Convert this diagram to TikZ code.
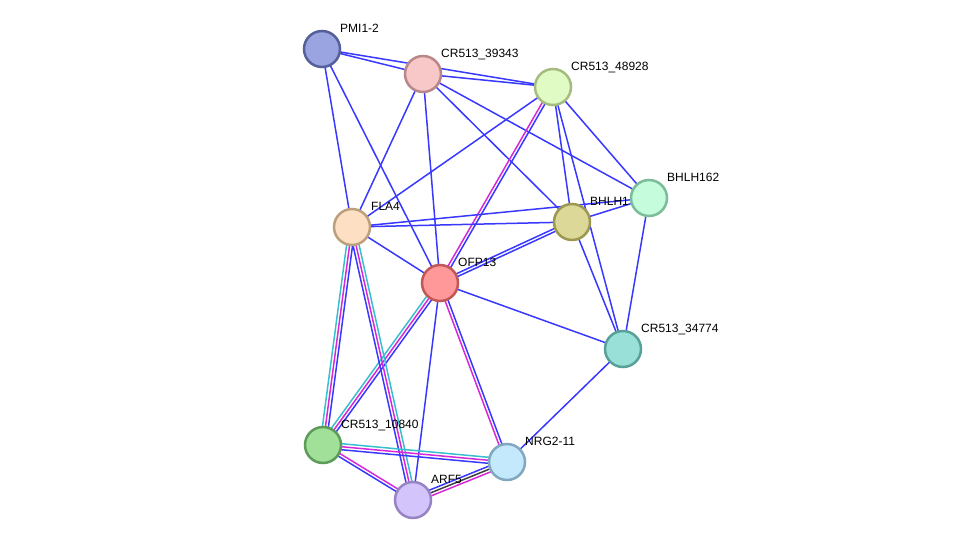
\documentclass[tikz,border=0pt]{standalone}
\usepackage{fontspec}
\setmainfont{Liberation Sans}
\usetikzlibrary{calc,backgrounds}
\definecolor{eblue}{RGB}{56,56,255}
\definecolor{emag}{RGB}{214,40,214}
\definecolor{ecyan}{RGB}{56,190,208}
\definecolor{egray}{RGB}{64,64,64}
\definecolor{pmiF}{RGB}{154,164,224}\definecolor{pmiD}{RGB}{85,96,154}
\definecolor{crtF}{RGB}{248,200,200}\definecolor{crtD}{RGB}{184,136,136}
\definecolor{crfF}{RGB}{224,252,196}\definecolor{crfD}{RGB}{164,188,128}
\definecolor{bhbF}{RGB}{196,252,220}\definecolor{bhbD}{RGB}{124,188,152}
\definecolor{bhaF}{RGB}{220,216,152}\definecolor{bhaD}{RGB}{156,152,80}
\definecolor{flaF}{RGB}{253,224,196}\definecolor{flaD}{RGB}{188,160,124}
\definecolor{ofpF}{RGB}{255,152,152}\definecolor{ofpD}{RGB}{192,88,88}
\definecolor{crsF}{RGB}{152,224,216}\definecolor{crsD}{RGB}{88,160,152}
\definecolor{croF}{RGB}{160,224,152}\definecolor{croD}{RGB}{92,156,88}
\definecolor{nrgF}{RGB}{196,232,252}\definecolor{nrgD}{RGB}{128,168,192}
\definecolor{arfF}{RGB}{212,196,252}\definecolor{arfD}{RGB}{152,132,196}
\tikzset{
  prot/.style={circle, minimum size=36pt, inner sep=0pt, line width=2.5pt},
  lbl/.style={anchor=base west, inner sep=0pt},
  edge/.style={line width=1.5pt, line cap=round}
}
\newcommand{\lnk}[3]{%
  \foreach \col [count=\i] in {#3} {\xdef\nlines{\i}}%
  \foreach \col [count=\i] in {#3} {%
    \pgfmathsetmacro\off{(\i-(\nlines+1)/2)*3}%
    \draw[edge,\col] ($(#1)!\off pt!90:(#2)$) -- ($(#2)!\off pt!-90:(#1)$);}}
\begin{document}
\begin{tikzpicture}[x=1pt, y=-1pt, font=\fontsize{12}{14}\selectfont]
\useasboundingbox (0,0) rectangle (975,546);
\node[prot, fill=pmiF, draw=pmiD] (pmi) at (322,49) {};
\node[prot, fill=crtF, draw=crtD] (crt) at (423,74) {};
\node[prot, fill=crfF, draw=crfD] (crf) at (553,87) {};
\node[prot, fill=bhbF, draw=bhbD] (bhb) at (649,198) {};
\node[prot, fill=bhaF, draw=bhaD] (bha) at (572,222) {};
\node[prot, fill=flaF, draw=flaD] (fla) at (352,227) {};
\node[prot, fill=ofpF, draw=ofpD] (ofp) at (440,283) {};
\node[prot, fill=crsF, draw=crsD] (crs) at (623,349) {};
\node[prot, fill=croF, draw=croD] (cro) at (323,445) {};
\node[prot, fill=nrgF, draw=nrgD] (nrg) at (507,462) {};
\node[prot, fill=arfF, draw=arfD] (arf) at (413,500) {};
\begin{scope}[on background layer]
\lnk{pmi}{crt}{eblue}
\lnk{pmi}{crf}{eblue}
\lnk{pmi}{fla}{eblue}
\lnk{pmi}{ofp}{eblue}
\lnk{crt}{crf}{eblue}
\lnk{crt}{fla}{eblue}
\lnk{crt}{ofp}{eblue}
\lnk{crt}{bha}{eblue}
\lnk{crt}{bhb}{eblue}
\lnk{crf}{fla}{eblue}
\lnk{crf}{ofp}{emag,eblue}
\lnk{crf}{bha}{eblue}
\lnk{crf}{crs}{eblue}
\lnk{crf}{bhb}{eblue}
\lnk{fla}{bha}{eblue}
\lnk{fla}{bhb}{eblue}
\lnk{fla}{ofp}{eblue}
\lnk{bha}{ofp}{eblue,eblue}
\lnk{bha}{bhb}{eblue}
\lnk{bha}{crs}{eblue}
\lnk{bhb}{crs}{eblue}
\lnk{ofp}{crs}{eblue}
\lnk{crs}{nrg}{eblue}
\lnk{ofp}{nrg}{emag,eblue}
\lnk{ofp}{arf}{eblue}
\lnk{ofp}{cro}{ecyan,emag,eblue}
\lnk{fla}{cro}{ecyan,emag,eblue}
\lnk{fla}{arf}{eblue,emag,ecyan}
\lnk{cro}{nrg}{eblue,emag,ecyan}
\lnk{cro}{arf}{eblue,emag}
\lnk{arf}{nrg}{emag,egray,eblue}
\end{scope}
\node[lbl] (pmi-t) at (340,32) {PMI1-2};
\node[lbl] (crt-t) at (441,57) {CR513\_39343};
\node[lbl] (crf-t) at (571,70) {CR513\_48928};
\node[lbl] (bhb-t) at (667,181) {BHLH162};
\node[lbl] (bha-t) at (590,205) {BHLH1};
\node[lbl] (fla-t) at (371,210) {FLA4};
\node[lbl] (ofp-t) at (458,266) {OFP13};
\node[lbl] (crs-t) at (641,332) {CR513\_34774};
\node[lbl] (cro-t) at (341,428) {CR513\_10840};
\node[lbl] (nrg-t) at (525,445) {NRG2-11};
\node[lbl] (arf-t) at (431,483) {ARF5};
\end{tikzpicture}
\end{document}
